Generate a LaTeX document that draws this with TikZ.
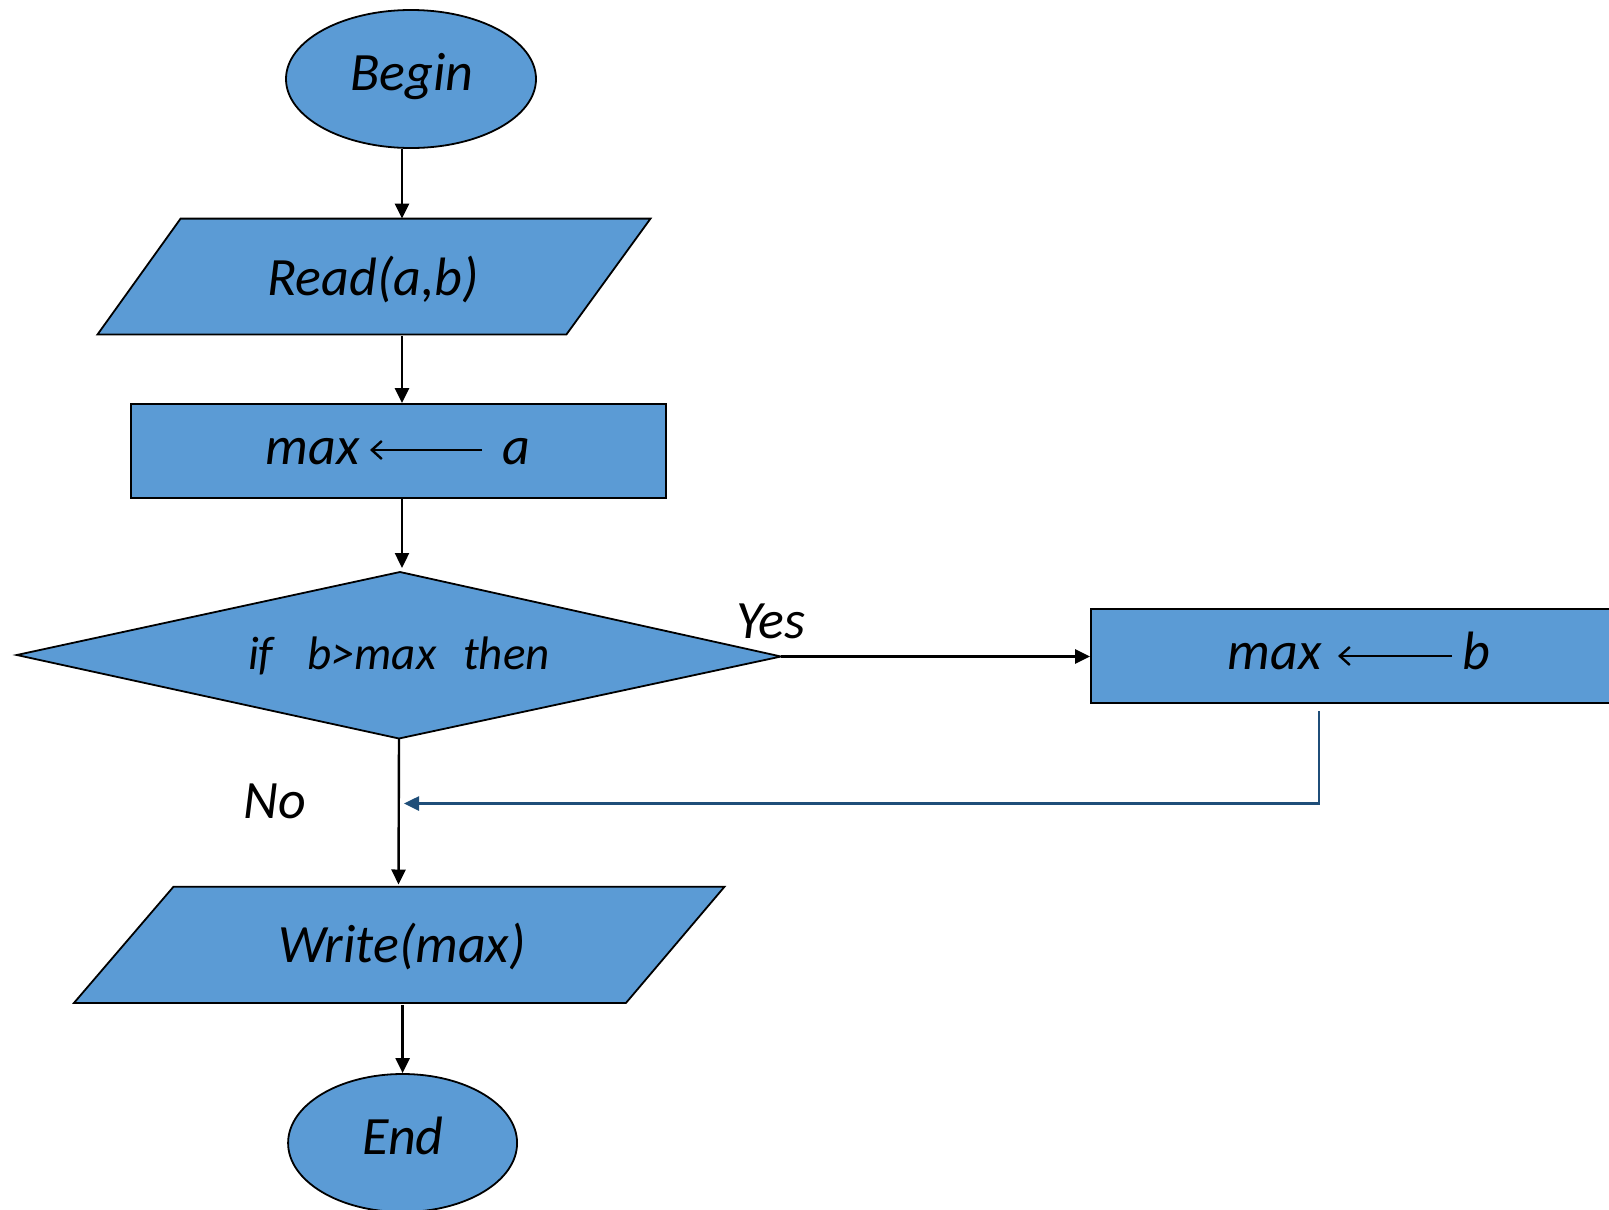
\documentclass[tikz,border=0pt]{standalone}
\usepackage{fontspec}
\setmainfont{Carlito}
\usetikzlibrary{arrows.meta,shapes.geometric}
\definecolor{boxblue}{HTML}{5B9BD5}
\definecolor{linkblue}{HTML}{1F4E79}
\begin{document}
\begin{tikzpicture}[x=1pt,y=-1pt,
  shapestyle/.style={draw=black,fill=boxblue,line width=1.8pt},
  lbl/.style={font=\fontsize{54}{60}\selectfont\itshape,inner sep=0pt,anchor=base},
  condlbl/.style={font=\fontsize{47}{54}\selectfont\itshape,inner sep=0pt,anchor=base west},
  conn/.style={line width=2.4pt,-{Triangle[length=15pt,width=14pt]}},
  fbconn/.style={line width=2.6pt,draw=linkblue,-{Triangle[length=15pt,width=14pt]},color=linkblue},
  assignarrow/.style={line width=2.4pt,-{Straight Barb[length=10pt,width=18pt]}}
]
\useasboundingbox (0,0) rectangle (1609,1210);
\begin{scope}
\clip (0,0) rectangle (1609,1210);
% Begin
\node[shapestyle,ellipse,minimum width=250pt,minimum height=138pt,inner sep=0pt] (begin) at (411,79) {};
\node[lbl] (begintxt) at (412,90) {Begin};
% Read
\draw[shapestyle] (180.6,218.6) -- (650.5,218.6) -- (566.4,334.5) -- (97.5,334.5) -- cycle;
\node[lbl] (readtxt) at (373,295) {Read(a,b)};
\coordinate (readtop) at (402,218.6);
\coordinate (readbot) at (402,336);
% max <- a
\node[shapestyle,rectangle,minimum width=535pt,minimum height=94pt,inner sep=0pt] (assignA) at (398.5,451) {};
\node[lbl] (maxa) at (312.5,464) {max};
\coordinate (arrAfrom) at (482,450);
\coordinate (arrAto) at (370,450);
\draw[assignarrow] (arrAfrom) -- (arrAto);
\node[lbl] (atxt) at (516.5,464) {a};
% Decision
\coordinate (dleft) at (16.8,655);
\coordinate (dtop) at (400,572);
\coordinate (dright) at (781,656.5);
\coordinate (dbot) at (399,738.5);
\draw[shapestyle] (dleft) -- (dtop) -- (dright) -- (dbot) -- cycle;
\node[condlbl] (iftxt) at (248,669) {if};
\node[condlbl] (condtxt) at (307,669) {b>max};
\node[condlbl] (thentxt) at (463,669) {then};
\coordinate (dtopin) at (402,568);
% max <- b
\node[shapestyle,rectangle,minimum width=560pt,minimum height=94pt,inner sep=0pt] (assignB) at (1371,656) {};
\node[lbl] (maxb) at (1274.5,669) {max};
\coordinate (arrBfrom) at (1452,656);
\coordinate (arrBto) at (1338,656);
\draw[assignarrow] (arrBfrom) -- (arrBto);
\node[lbl] (btxt) at (1476.5,669) {b};
% Write
\draw[shapestyle] (173.5,886.7) -- (724.5,886.7) -- (626,1002.9) -- (74,1002.9) -- cycle;
\node[lbl] (writetxt) at (402,962.5) {Write(max)};
\coordinate (writetop) at (398.5,884.5);
\coordinate (writebot) at (402.6,1005);
% End
\node[shapestyle,ellipse,minimum width=229pt,minimum height=138pt,inner sep=0pt] (endnode) at (402.6,1143) {};
\node[lbl] (endtxt) at (403,1154) {End};
% Labels
\node[lbl] (yes) at (771,638) {Yes};
\node[lbl] (no) at (274.5,818.5) {No};
% Connectors
\draw[conn] (begin.south -| readtop) -- (readtop);
\draw[conn] (readbot) -- (readbot |- assignA.north);
\draw[conn] (assignA.south -| readbot) -- (dtopin);
\draw[conn] (dright) -- (assignB.west |- dright);
\coordinate (fbstart) at (1319,711);
\coordinate (fbend) at (404,803.5);
\draw[fbconn] (fbstart) |- (fbend);
\draw[conn] (dbot) -- (writetop);
\draw[conn] (writebot) -- (endnode.north -| writebot);
\end{scope}
\end{tikzpicture}
\end{document}
